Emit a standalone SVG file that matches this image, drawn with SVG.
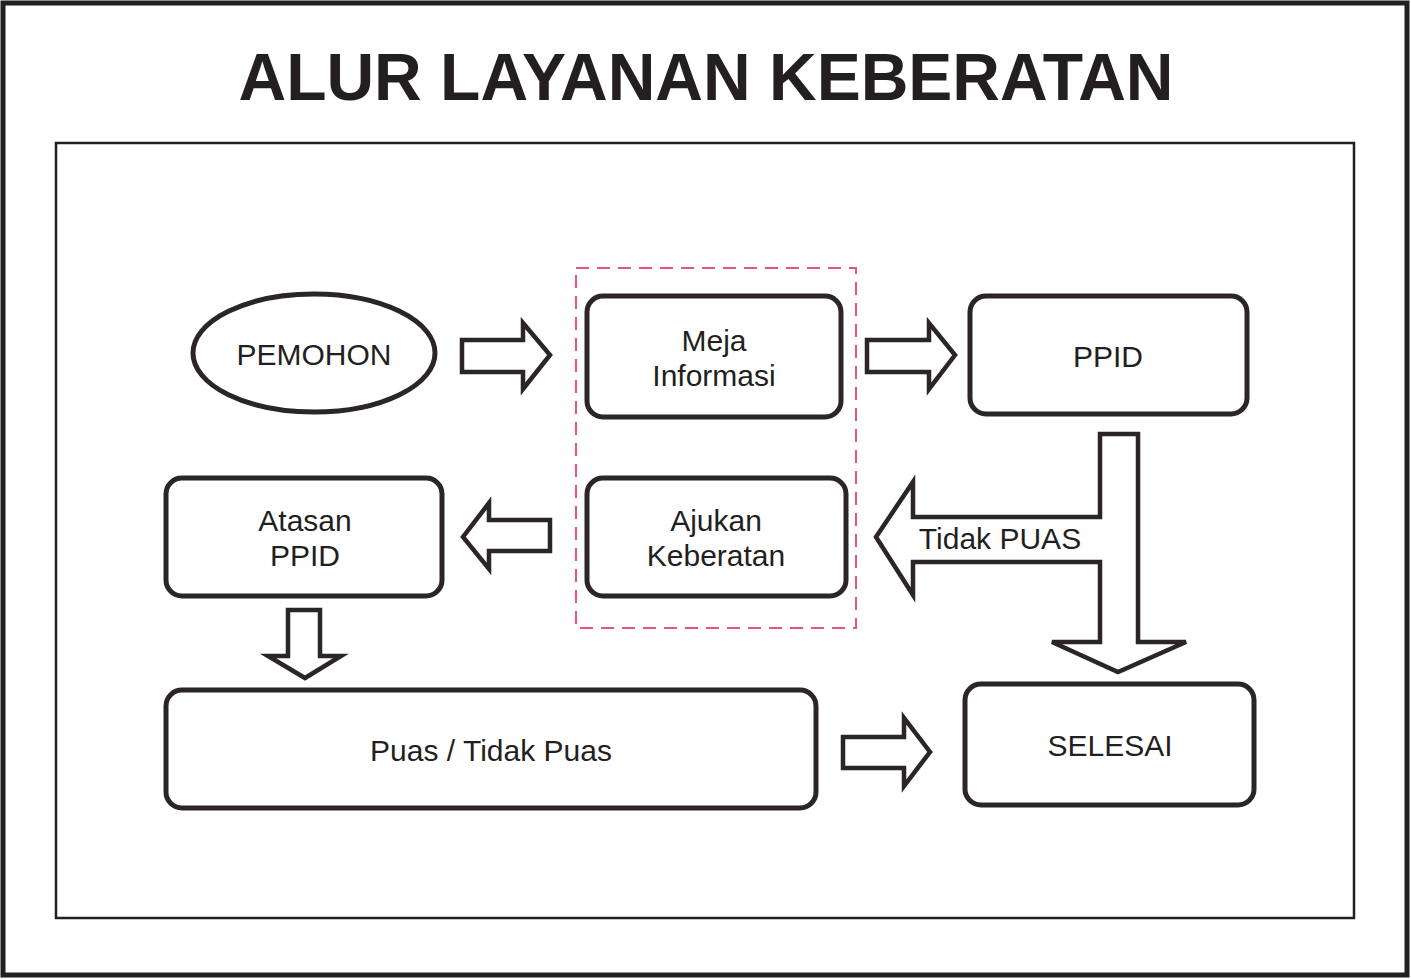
<svg xmlns="http://www.w3.org/2000/svg" width="1411" height="979" viewBox="0 0 1411 979">
<style>
.b{fill:#fff;stroke:#2b2625;stroke-width:5}
.a{fill:#fff;stroke:#2b2625;stroke-width:4.5;stroke-linejoin:miter}
.t{font-family:"Liberation Sans",Arial,sans-serif;font-size:30px;fill:#231f20;text-anchor:middle}
</style>
<rect x="0" y="0" width="1411" height="979" fill="#fff"/>
<rect x="3" y="3" width="1404" height="972" fill="none" stroke="#231f20" stroke-width="5"/>
<text x="706" y="100" font-family="Liberation Sans,Arial,sans-serif" font-weight="bold" font-size="66" fill="#231f20" text-anchor="middle">ALUR LAYANAN KEBERATAN</text>
<rect x="56" y="143" width="1298" height="775" fill="none" stroke="#231f20" stroke-width="2.5"/>
<rect x="576" y="268" width="280" height="360" fill="none" stroke="#e8557a" stroke-width="2" stroke-dasharray="13,8"/>
<g id="connectors">
<polygon class="a" points="462,340 523,340 523,323 550,355 523,389 523,372 462,372"/>
<polygon class="a" points="867,340 929,340 929,323 955,355 929,389 929,372 867,372"/>
<polygon class="a" points="550,520 489,520 489,503 463,537 489,569 489,551 550,551"/>
<polygon class="a" points="288,610 320,610 320,656 341,656 305,678 268,656 288,656"/>
<polygon class="a" points="843,737 904,737 904,718 930,752 904,786 904,768 843,768"/>
<polygon class="a" points="1100,434 1138,434 1138,642 1186,642 1118,672 1052,642 1100,642 1100,562 913,562 913,595 876,537 913,482 913,517 1100,517"/>
<text class="t" x="1000" y="549">Tidak PUAS</text>
</g>
<g id="pemohon"><ellipse class="b" cx="314" cy="353" rx="121" ry="59"/><text class="t" x="314" y="365">PEMOHON</text></g>
<g id="meja"><rect class="b" x="587" y="296" width="254" height="121" rx="16"/><text class="t" x="714" y="351">Meja</text><text class="t" x="714" y="386">Informasi</text></g>
<g id="ppid"><rect class="b" x="970" y="296" width="277" height="118" rx="16"/><text class="t" x="1108" y="367">PPID</text></g>
<g id="ajukan"><rect class="b" x="587" y="478" width="259" height="118" rx="16"/><text class="t" x="716" y="531">Ajukan</text><text class="t" x="716" y="566">Keberatan</text></g>
<g id="atasan"><rect class="b" x="166" y="478" width="276" height="118" rx="16"/><text class="t" x="305" y="531">Atasan</text><text class="t" x="305" y="566">PPID</text></g>
<g id="puas"><rect class="b" x="166" y="690" width="650" height="118" rx="16"/><text class="t" x="491" y="761">Puas / Tidak Puas</text></g>
<g id="selesai"><rect class="b" x="965" y="684" width="289" height="121" rx="16"/><text class="t" x="1110" y="756">SELESAI</text></g>
</svg>
